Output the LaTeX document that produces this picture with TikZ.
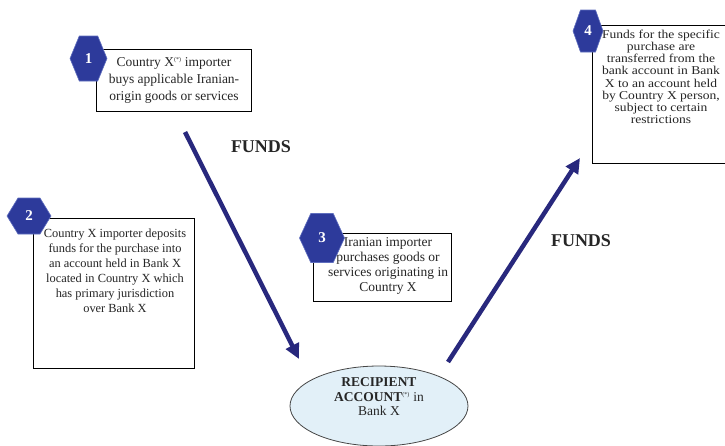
\documentclass[tikz,border=0pt]{standalone}
\usepackage{fontspec}
\setmainfont{Liberation Serif}
\newfontfamily\wideserif[FakeStretch=1.13]{Liberation Serif}
\usetikzlibrary{shapes.geometric,arrows.meta}
\definecolor{hexblue}{RGB}{45,58,155}
\definecolor{hexedge}{RGB}{95,110,190}
\definecolor{arrowblue}{RGB}{40,40,125}
\definecolor{ellfill}{RGB}{226,240,248}
\definecolor{elledge}{RGB}{70,70,70}
\newcommand\myhex[6]{%
  \path[hexshape] ({#2-#4/2},#3) -- ({#2-#4/4},{#3-#5/2}) -- ({#2+#4/4},{#3-#5/2}) -- ({#2+#4/2},#3) -- ({#2+#4/4},{#3+#5/2}) -- ({#2-#4/4},{#3+#5/2}) -- cycle;
  \node[hexnum] (#1) at (#2,#3) {#6};}
\newcommand\supast{\textsuperscript{\fontsize{6}{6}\selectfont(*)}}
\tikzset{
  hexshape/.style={draw=hexedge, fill=hexblue, line width=0.6pt},
  hexnum/.style={text=white, font=\bfseries\fontsize{15}{15}\selectfont, inner sep=0pt},
  box/.style={draw=black, line width=0.8pt, fill=white, inner sep=0pt},
  txt/.style={align=center, inner sep=0pt, text=black!85},
  flow/.style={draw=arrowblue, line width=4.5pt, -{Triangle[length=15pt,width=14pt]}},
  funds/.style={font=\bfseries\fontsize{18}{18}\selectfont, inner sep=0pt, text=black!85},
}
\begin{document}
\begin{tikzpicture}[x=1pt,y=-1pt]
\useasboundingbox (0,0) rectangle (725,445);
\clip (0,0) rectangle (725,445);
% boxes
\node[box, minimum width=155pt, minimum height=62pt] (b1) at (173.5,80) {};
\node[box, minimum width=161pt, minimum height=150pt] (b2) at (113.5,293) {};
\node[box, minimum width=138pt, minimum height=68pt] (b3) at (382,267) {};
\node[box, minimum width=136pt, minimum height=138pt] (b4) at (660,94) {};
% texts
\node[txt, font=\fontsize{13.5}{17}\selectfont] (t1) at (174,80) {Country X\supast{} importer\\buys applicable Iranian-\\origin goods or services};
\node[txt, font=\fontsize{12.4}{15}\selectfont, anchor=north] (t2) at (115,229) {Country X importer deposits\\funds for the purchase into\\an account held in Bank X\\located in Country X which\\has primary jurisdiction\\over Bank X};
\node[txt, font=\fontsize{13.5}{15}\selectfont] (t3) at (388,266) {Iranian importer\\purchases goods or\\services originating in\\Country X};
\node[txt, font=\wideserif\fontsize{12}{12.1}\selectfont, anchor=north] (t4) at (661,30) {Funds for the specific\\purchase are\\transferred from the\\bank account in Bank\\X to an account held\\by Country X person,\\subject to certain\\restrictions};
% ellipse
\node[ellipse, draw=elledge, fill=ellfill, line width=0.8pt, minimum width=178pt, minimum height=80pt] (acc) at (379,406) {};
\node[txt, font=\fontsize{13.5}{14.5}\selectfont] (acct) at (379,397) {\textbf{RECIPIENT}\\\textbf{ACCOUNT}\supast{} in\\Bank X};
% hexagons
\myhex{h1}{88.5}{58.5}{37}{45}{1}
\myhex{h2}{29}{216}{44}{36}{2}
\myhex{h3}{322}{238}{45}{49}{3}
\myhex{h4}{588}{31}{30}{42}{4}
% arrows
\coordinate (a1s) at (185,132);
\coordinate (a1e) at (299,359);
\coordinate (a2s) at (448,362);
\coordinate (a2e) at (580,158);
\draw[flow] (a1s) -- (a1e);
\draw[flow] (a2s) -- (a2e);
% labels
\node[funds] (f1) at (261,147) {FUNDS};
\node[funds] (f2) at (581,241) {FUNDS};
\end{tikzpicture}
\end{document}
